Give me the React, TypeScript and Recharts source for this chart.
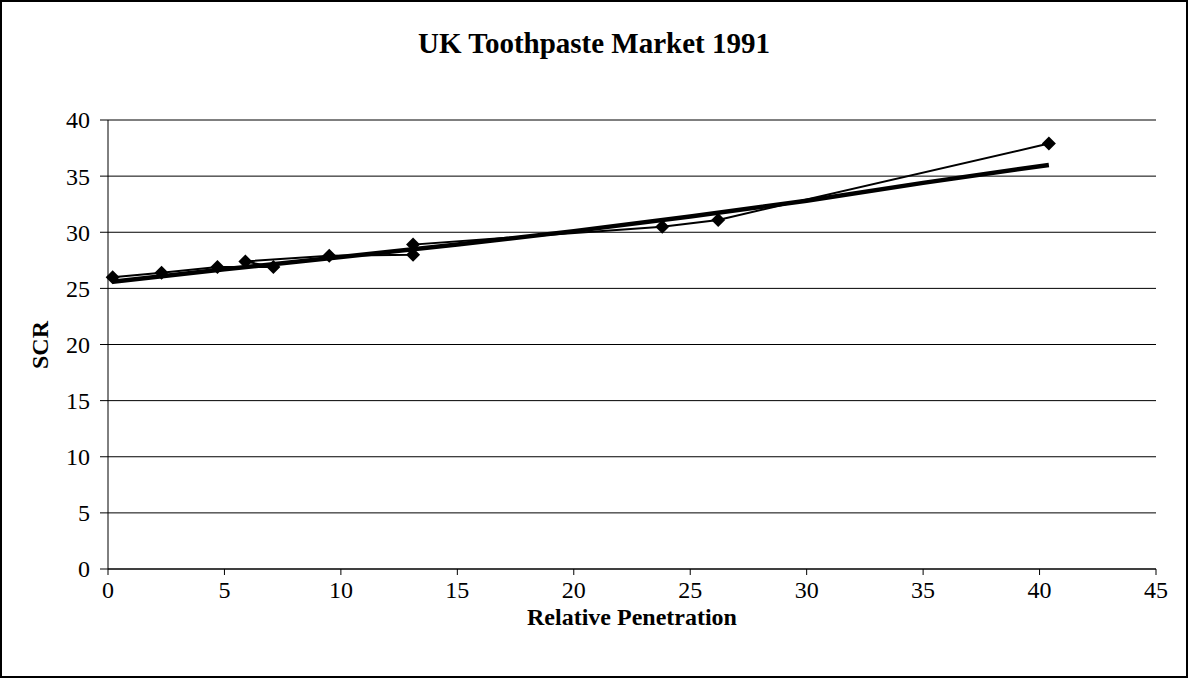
import { ScatterChart, Scatter, XAxis, YAxis, CartesianGrid } from "recharts";

// brand points, in the order the connecting line joins them
const penetration = [0.2, 2.3, 4.7, 7.1, 5.9, 9.5, 13.1, 13.1, 23.8, 26.2, 40.4];
const scr = [26.0, 26.4, 26.9, 26.9, 27.4, 27.9, 28.0, 28.9, 30.5, 31.1, 37.9];

// trend line
const trendX = [0.2, 5, 10, 15, 20, 25, 30, 35, 40.4];
const trendY = [25.6, 26.7, 27.8, 28.9, 30.1, 31.4, 32.8, 34.4, 36.0];

const xTicks = [0, 5, 10, 15, 20, 25, 30, 35, 40, 45];
const yTicks = [0, 5, 10, 15, 20, 25, 30, 35, 40];

const W = 1189;
const H = 679;
const FONT = "'Liberation Serif', 'Times New Roman', serif";

const points = penetration.map((x, i) => ({ x, y: scr[i] }));
const trend = trendX.map((x, i) => ({ x, y: trendY[i] }));

function Diamond(props: any) {
  const { cx, cy } = props;
  if (cx == null || cy == null) return null;
  const r = 7;
  return (
    <polygon
      points={`${cx},${cy - r} ${cx + r},${cy} ${cx},${cy + r} ${cx - r},${cy}`}
      fill="#000"
    />
  );
}

const NoDot = () => <g />;

function XTick({ x, y, payload }: any) {
  return (
    <text x={x} y={y} dy="0.71em" textAnchor="middle" fontFamily={FONT} fontSize={24} fill="#000">
      {payload.value}
    </text>
  );
}

function YTick({ x, y, payload }: any) {
  return (
    <text x={x} y={y} dy="0.35em" textAnchor="end" fontFamily={FONT} fontSize={24} fill="#000">
      {payload.value}
    </text>
  );
}

export default function App() {
  return (
    <div style={{ position: "absolute", left: 0, top: 0, width: W, height: H, background: "#fff" }}>
      <ScatterChart
        width={W}
        height={H}
        margin={{ top: 120, right: 33, bottom: 80, left: 0 }}
      >
        <CartesianGrid horizontal vertical={false} stroke="#000" strokeWidth={1} />
        <XAxis
          type="number"
          dataKey="x"
          domain={[0, 45]}
          ticks={xTicks}
          interval={0}
          height={30}
          tickSize={6}
          tickMargin={6}
          stroke="#000"
          tick={<XTick />}
        />
        <YAxis
          type="number"
          dataKey="y"
          domain={[0, 40]}
          ticks={yTicks}
          interval={0}
          width={108}
          tickSize={8}
          tickMargin={10}
          stroke="#000"
          tick={<YTick />}
        />
        <Scatter
          data={trend}
          line={{ stroke: "#000", strokeWidth: 4.5 }}
          shape={<NoDot />}
          isAnimationActive={false}
        />
        <Scatter
          data={points}
          line={{ stroke: "#000", strokeWidth: 2 }}
          shape={<Diamond />}
          isAnimationActive={false}
        />
      </ScatterChart>
      <svg
        width={W}
        height={H}
        style={{ position: "absolute", left: 0, top: 0, pointerEvents: "none" }}
      >
        <rect x={1} y={1} width={W - 3} height={H - 3} fill="none" stroke="#000" strokeWidth={2} />
        <text x={594} y={53} textAnchor="middle" fontFamily={FONT} fontWeight="bold" fontSize={29}>
          UK Toothpaste Market 1991
        </text>
        <text x={632} y={625} textAnchor="middle" fontFamily={FONT} fontWeight="bold" fontSize={24}>
          Relative Penetration
        </text>
        <text
          transform="translate(48, 345) rotate(-90)"
          textAnchor="middle"
          fontFamily={FONT}
          fontWeight="bold"
          fontSize={24}
        >
          SCR
        </text>
      </svg>
    </div>
  );
}
